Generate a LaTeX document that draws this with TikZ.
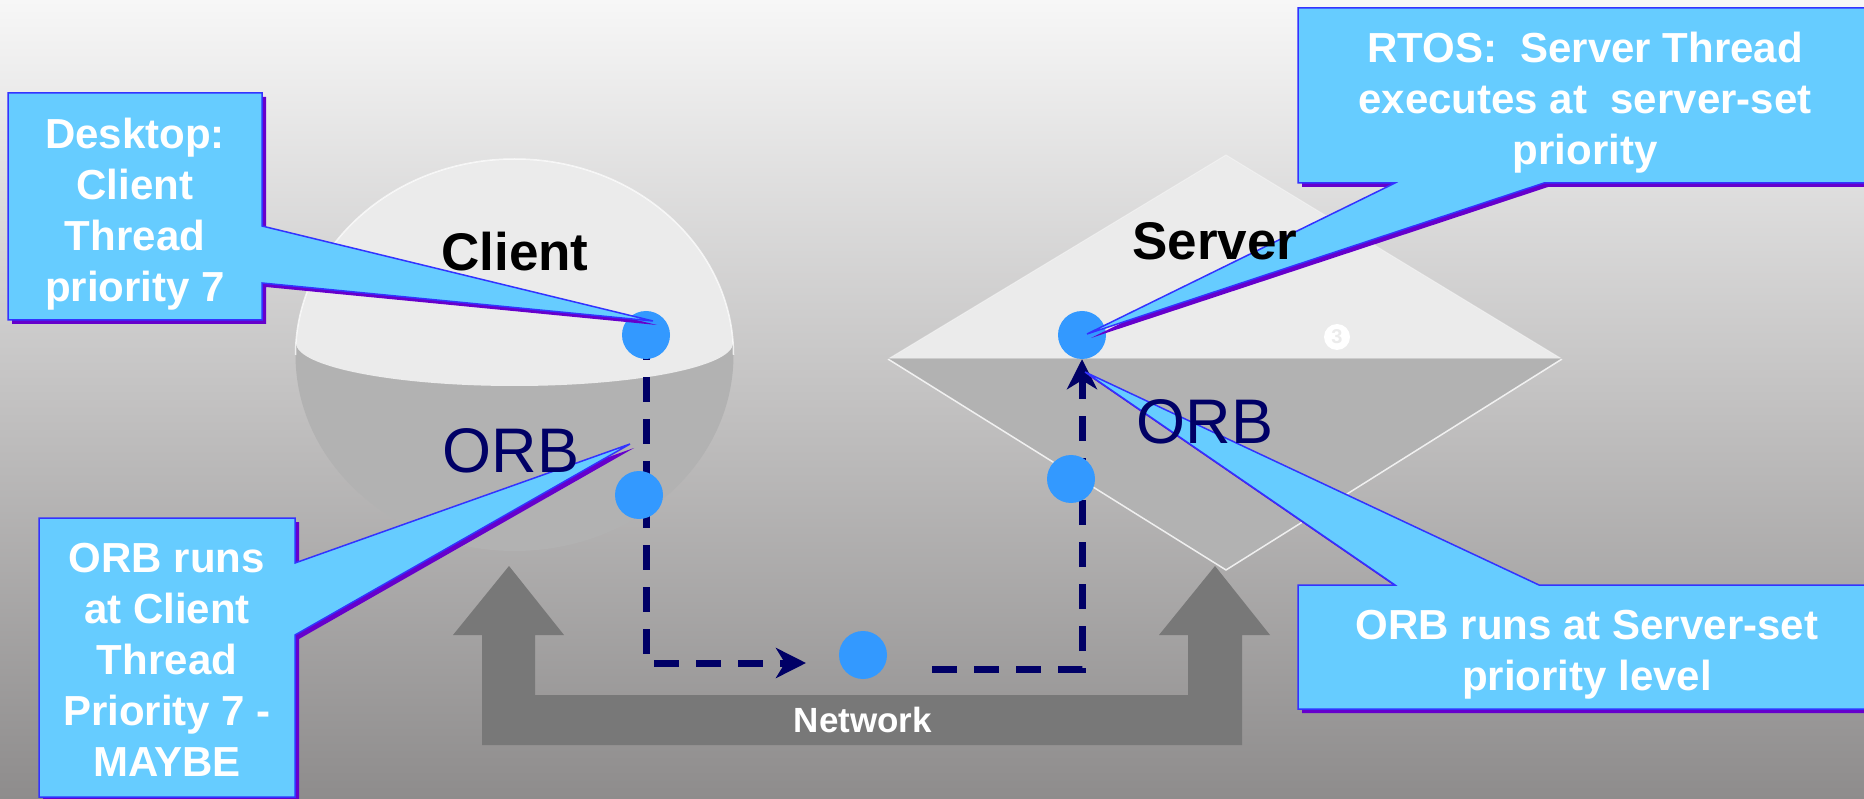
\documentclass[tikz,border=0pt]{standalone}
\usepackage{fontspec}
\setmainfont{Liberation Sans}
\usetikzlibrary{arrows.meta}
\definecolor{calloutfill}{HTML}{66CCFF}
\definecolor{calloutline}{HTML}{3333FF}
\definecolor{calloutshadow}{HTML}{6600CC}
\definecolor{dotblue}{HTML}{3399FF}
\definecolor{navy}{HTML}{000066}
\definecolor{netgray}{HTML}{787878}
\definecolor{lightface}{HTML}{EBEBEB}
\definecolor{darkface}{HTML}{B2B2B2}
\definecolor{bgtop}{HTML}{F7F7F7}
\definecolor{bgmid}{HTML}{CCCBCB}
\definecolor{bgbot}{HTML}{8E8C8C}
\pgfdeclarelayer{back}
\pgfdeclarelayer{lines}
\pgfsetlayers{back,lines,main}
\begin{document}
\begin{tikzpicture}[x=1pt,y=-1pt,
  dot/.style={circle,fill=dotblue,minimum size=48pt,inner sep=0pt},
  flow/.style={navy,line width=7pt,dash pattern=on 25pt off 17pt},
  flowtip/.style={-{Stealth[length=30pt,width=30pt,inset=9pt]}},
  callout/.style={fill=calloutfill,draw=calloutline,line width=1.5pt,line join=miter},
  calloutshade/.style={fill=calloutshadow},
  callouttext/.style={text=white,align=center,inner sep=0pt,font=\bfseries\fontsize{42}{51}\selectfont},
  titletext/.style={inner sep=0pt,anchor=base,font=\bfseries\fontsize{53}{60}\selectfont},
  orbtext/.style={inner sep=0pt,anchor=base,text=navy,font=\fontsize{63}{70}\selectfont},
  nettext/.style={inner sep=0pt,anchor=base,text=white,font=\bfseries\fontsize{35}{40}\selectfont},
  lightfacestyle/.style={fill=lightface},
  darkfacestyle/.style={fill=darkface},
  rimline/.style={draw=white,line width=1.5pt,draw opacity=0.75},
  netarrow/.style={fill=netgray}
]
\useasboundingbox (0,0) rectangle (1864,799);

\begin{pgfonlayer}{back}
  % background gradient
  \shade[top color=bgtop,middle color=bgmid,bottom color=bgbot] (0,0) rectangle (1864,799);

  % client disc
  \fill[darkfacestyle] (514.5,355) ellipse[x radius=219, y radius=196];
  \begin{scope}
    \clip (514.5,355) ellipse[x radius=219, y radius=196];
    \fill[lightfacestyle] (280,140) -- (750,140) -- (750,343) -- (733,343)
      arc[start angle=0,end angle=180,x radius=218.5,y radius=43] -- (280,343) -- cycle;
  \end{scope}
  \draw[rimline] (295.5,355) arc[start angle=180,end angle=360,x radius=219,y radius=196];

  % server diamond
  \fill[lightfacestyle] (888,359) -- (1226,155) -- (1562,359) -- cycle;
  \draw[draw=white,draw opacity=0.35,line width=1pt] (888,359) -- (1226,155) -- (1562,359);
  \fill[darkfacestyle] (888,359) -- (1562,359) -- (1226,570) -- cycle;
  \draw[draw=white,draw opacity=0.8,line width=1.5pt] (888,359) -- (1226,570) -- (1562,359);
  \draw[draw=gray!40,line width=1pt] (888,359) -- (1562,359);

  % circled three
  \fill[white] (1337,337) circle[radius=13];
  \node[inner sep=0pt,text=lightface,font=\bfseries\fontsize{20}{20}\selectfont] (three) at (1337,337) {3};

  % network U arrow
  \fill[netarrow] (509,566) -- (564,635) -- (535,635) -- (535,695) -- (1188,695) -- (1188,635)
    -- (1159,635) -- (1215,566) -- (1270,635) -- (1242,635) -- (1242,745) -- (482,745)
    -- (482,635) -- (453,635) -- cycle;
\end{pgfonlayer}

% dots
\node[dot] (c1) at (646,335) {};
\node[dot] (c2) at (639,495) {};
\node[dot] (n)  at (863,655) {};
\node[dot] (s1) at (1082,335) {};
\node[dot] (s2) at (1071,479) {};

\coordinate (larrow) at (806,663);
\coordinate (rstart) at (932,669);

\begin{pgfonlayer}{lines}
  \draw[flow,flowtip] (c1.center) |- (larrow);
  \draw[flow,flowtip] (rstart) -| (s1.south);
\end{pgfonlayer}

% callout: Desktop
\fill[calloutshade,shift={(4,4)}] (8,93) -- (262,93) -- (262,226) -- (653,321) -- (262,283) -- (262,320) -- (8,320) -- cycle;
\draw[callout] (8,93) -- (262,93) -- (262,226) -- (653,321) -- (262,283) -- (262,320) -- (8,320) -- cycle;
\node[callouttext] (desk) at (135,214) {Desktop:\\Client\\Thread\\priority 7};

% callout: ORB runs at client
\fill[calloutshade,shift={(4,4)}] (39,518) -- (295,518) -- (295,563) -- (630,444) -- (295,635) -- (295,797) -- (39,797) -- cycle;
\draw[callout] (39,518) -- (295,518) -- (295,563) -- (630,444) -- (295,635) -- (295,797) -- (39,797) -- cycle;
\node[callouttext] (orbc) at (167,660) {ORB runs\\at Client\\Thread\\Priority 7 -\\MAYBE};

% callout: RTOS
\fill[calloutshade,shift={(4,4)}] (1298,8) -- (1876,8) -- (1876,183) -- (1544,183) -- (1087,334) -- (1395,183) -- (1298,183) -- cycle;
\draw[callout] (1298,8) -- (1876,8) -- (1876,183) -- (1544,183) -- (1087,334) -- (1395,183) -- (1298,183) -- cycle;
\node[callouttext] (rtos) at (1585,103) {RTOS:~ Server Thread\\executes at~ server-set\\priority};

% callout: ORB runs at server
\fill[calloutshade,shift={(4,4)}] (1298,585) -- (1395,585) -- (1085,372) -- (1539,585) -- (1876,585) -- (1876,709) -- (1298,709) -- cycle;
\draw[callout] (1298,585) -- (1395,585) -- (1085,372) -- (1539,585) -- (1876,585) -- (1876,709) -- (1298,709) -- cycle;
\node[callouttext] (orbs) at (1587,655) {ORB runs at Server-set\\priority level};

% labels
\node[titletext] (client) at (515,271) {Client};
\node[titletext] (server) at (1215,260) {Server};
\node[orbtext] (orbcl) at (511,472) {ORB};
\node[orbtext] (orbsl) at (1205,443) {ORB};
\node[nettext] (net) at (863,732) {Network};
\end{tikzpicture}
\end{document}
